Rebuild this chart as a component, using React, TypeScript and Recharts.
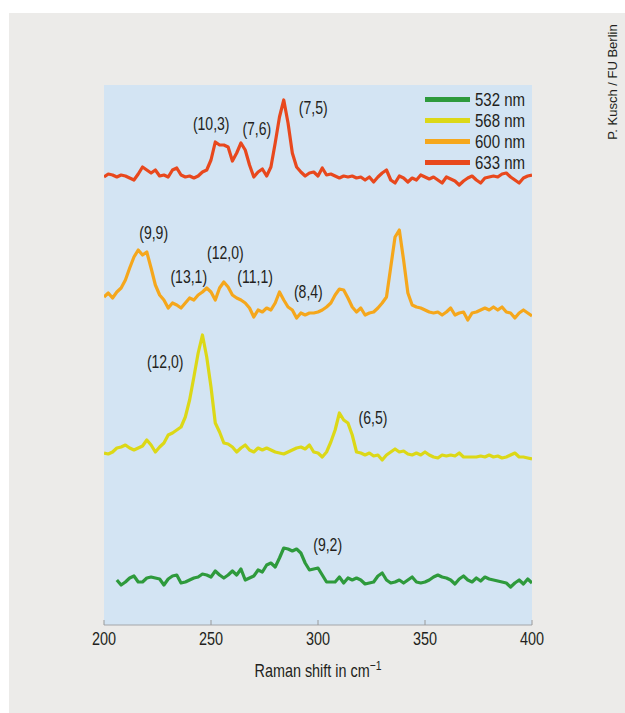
import React from 'react';
import {
  ComposedChart,
  Line,
  XAxis,
  YAxis,
  CartesianGrid,
  ReferenceDot,
  Legend,
  Label,
} from 'recharts';

const FONT = '"Liberation Sans", Arial, sans-serif';
const TEXT = '#231f20';

// Raman shift (cm^-1)
const ramanShift = [
  200, 202, 204, 206, 208, 210, 212, 214, 216, 218,
  220, 222, 224, 226, 228, 230, 232, 234, 236, 238,
  240, 242, 244, 246, 248, 250, 252, 254, 256, 258,
  260, 262, 264, 266, 268, 270, 272, 274, 276, 278,
  280, 282, 284, 286, 288, 290, 292, 294, 296, 298,
  300, 302, 304, 306, 308, 310, 312, 314, 316, 318,
  320, 322, 324, 326, 328, 330, 332, 334, 336, 338,
  340, 342, 344, 346, 348, 350, 352, 354, 356, 358,
  360, 362, 364, 366, 368, 370, 372, 374, 376, 378,
  380, 382, 384, 386, 388, 390, 392, 394, 396, 398,
  400,
];

// Intensities (a.u., spectra offset vertically)
const green532 = [
  null, null, null, 45, 40, 43, 47, 49, 43, 43,
  47, 48, 47, 46, 40, 46, 49, 50, 42, 43,
  45, 47, 48, 51, 50, 48, 54, 50, 47, 50,
  54, 50, 56, 45, 47, 49, 55, 53, 60, 62,
  58, 67, 77, 76, 74, 76, 72, 62, 55, 56,
  57, 50, 43, 43, 43, 48, 42, 47, 45, 47,
  45, 41, 42, 43, 49, 52, 45, 42, 43, 45,
  42, 45, 48, 43, 42, 43, 45, 48, 50, 48,
  47, 45, 41, 46, 49, 45, 43, 47, 44, 48,
  46, 45, 44, 43, 42, 38, 42, 45, 41, 46,
  42,
];

const yellow568 = [
  172, 171, 173, 177, 178, 180, 177, 175, 177, 179,
  185, 180, 173, 178, 182, 190, 192, 195, 198, 208,
  225, 248, 272, 290, 268, 238, 202, 193, 182, 181,
  178, 173, 177, 180, 175, 173, 177, 175, 177, 175,
  173, 172, 171, 173, 175, 177, 178, 176, 180, 173,
  172, 168, 173, 183, 195, 212, 205, 202, 190, 173,
  172, 170, 172, 169, 170, 165, 170, 173, 176, 173,
  174, 171, 170, 172, 170, 173, 170, 168, 167, 170,
  169, 170, 169, 172, 168, 168, 168, 168, 169, 168,
  170, 168, 169, 167, 168, 170, 172, 168, 168, 167,
  166,
];

const orange600 = [
  328, 332, 327, 333, 337, 345, 357, 368, 375, 370,
  373, 357, 340, 330, 325, 317, 322, 320, 317, 322,
  327, 325, 330, 333, 337, 333, 325, 337, 343, 338,
  330, 327, 325, 322, 317, 308, 315, 313, 317, 315,
  322, 333, 325, 318, 315, 307, 312, 310, 312, 312,
  313, 315, 318, 322, 330, 336, 335, 327, 318, 313,
  317, 310, 312, 313, 317, 322, 328, 358, 388, 395,
  365, 332, 320, 318, 317, 315, 313, 312, 313, 310,
  313, 317, 310, 312, 313, 305, 312, 313, 315, 317,
  315, 318, 315, 318, 313, 312, 307, 312, 315, 312,
  309,
];

const red633 = [
  448, 451, 450, 448, 450, 449, 447, 445, 451, 458,
  455, 452, 455, 449, 450, 448, 455, 457, 450, 448,
  449, 447, 449, 453, 455, 465, 483, 480, 480, 478,
  464, 472, 482, 475, 460, 448, 453, 456, 449, 458,
  482, 508, 525, 502, 472, 458, 453, 449, 452, 453,
  449, 457, 450, 451, 449, 447, 449, 448, 449, 447,
  448, 445, 448, 443, 448, 452, 455, 445, 442, 449,
  447, 443, 447, 445, 450, 448, 446, 448, 445, 442,
  448, 446, 444, 440, 444, 447, 449, 445, 442, 447,
  448, 449, 448, 451, 452, 448, 445, 442, 447, 449,
  450,
];

const xTicks = [200, 250, 300, 350, 400];
const yTicks = [108, 216, 324, 432];

// Peak assignments (chirality indices)
const peakText = ['(10,3)', '(7,6)', '(7,5)', '(9,9)', '(12,0)', '(13,1)', '(11,1)', '(8,4)', '(12,0)', '(6,5)', '(9,2)'];
const peakX = [250.1, 271.4, 297.8, 223.2, 256.7, 239.6, 270.6, 295.5, 228.6, 325.7, 304.5];
const peakY = [502, 497, 518, 393, 373, 349, 349, 334, 264, 208, 81];

const data = ramanShift.map((x, i) => ({
  x,
  g: green532[i],
  yl: yellow568[i],
  o: orange600[i],
  r: red633[i],
}));

const XTick = (props: any) => {
  const { x, y, payload } = props;
  return (
    <g transform={`translate(${x},${y - 0.5}) scale(0.76,1)`}>
      <text x={0} y={0} dy="0.71em" textAnchor="middle" fill={TEXT} fontFamily={FONT} fontSize={19}>
        {payload.value}
      </text>
    </g>
  );
};

const PeakLabel = (props: any) => {
  const vb = props.viewBox || { x: 0, y: 0, width: 0, height: 0 };
  const cx = vb.x + (vb.width || 0) / 2;
  const cy = vb.y + (vb.height || 0) / 2;
  return (
    <g transform={`translate(${cx},${cy}) scale(0.78,1)`}>
      <text x={0} y={0} textAnchor="middle" dominantBaseline="central" fill={TEXT} fontFamily={FONT} fontSize={18}>
        {props.text}
      </text>
    </g>
  );
};

const LegendBox = (props: any) => (
  <div style={{ fontFamily: FONT, fontSize: 19, color: TEXT }}>
    {(props.payload || []).map((p: any) => (
      <div key={p.value} style={{ display: 'flex', alignItems: 'center', height: 21 }}>
        <span
          style={{
            display: 'inline-block',
            width: 45,
            height: 5,
            background: p.color,
            marginRight: 5,
          }}
        />
        <span
          style={{
            display: 'inline-block',
            whiteSpace: 'nowrap',
            transform: 'scaleX(0.79)',
            transformOrigin: 'left center',
          }}
        >
          {p.value}
        </span>
      </div>
    ))}
  </div>
);

const XTitle = (props: any) => {
  const vb = props.viewBox || { x: 0, y: 0, width: 0, height: 0 };
  const cx = vb.x + vb.width / 2;
  const cy = vb.y + 52;
  return (
    <g transform={`translate(${cx},${cy}) scale(0.8,1)`}>
      <text x={0} y={0} textAnchor="middle" fill={TEXT} fontFamily={FONT} fontSize={18}>
        Raman shift in cm
        <tspan dy={-7} fontSize={13}>−1</tspan>
      </text>
    </g>
  );
};

const YTitle = (props: any) => {
  const vb = props.viewBox || { x: 0, y: 0, width: 0, height: 0 };
  const cx = vb.x - 29;
  const cy = vb.y + vb.height / 2;
  return (
    <g transform={`translate(${cx},${cy}) rotate(-90) scale(0.82,1)`}>
      <text x={0} y={0} textAnchor="middle" dominantBaseline="central" fill={TEXT} fontFamily={FONT} fontSize={18}>
        Intensity in a. u.
      </text>
    </g>
  );
};

export default function App() {
  return (
    <>
      <style>{`html,body{margin:0;padding:0;overflow:hidden;background:#fff;}`}</style>
      <div
        style={{
          position: 'relative',
          marginLeft: 9,
          marginTop: 13,
          width: 616,
          height: 700,
          background: '#ecebe9',
        }}
      >
        <ComposedChart
          width={616}
          height={700}
          data={data}
          margin={{ top: 72, right: 93, bottom: 58, left: 95 }}
        >
          <CartesianGrid fill="#d3e4f3" stroke="none" horizontal={false} vertical={false} />
          <XAxis
            dataKey="x"
            type="number"
            domain={[200, 400]}
            ticks={xTicks}
            allowDataOverflow
            height={30}
            tickSize={-5}
            tickMargin={12}
            axisLine={{ stroke: '#a3a6a9' }}
            tickLine={{ stroke: '#9a9a9a' }}
            tick={<XTick />}
          >
            <Label content={<XTitle />} />
          </XAxis>
          <XAxis
            xAxisId="top"
            orientation="top"
            type="number"
            domain={[200, 400]}
            ticks={xTicks}
            height={0}
            tickSize={-5}
            tick={false}
            axisLine={{ stroke: '#c5ccd2' }}
            tickLine={{ stroke: '#9a9a9a' }}
          />
          <YAxis
            type="number"
            domain={[0, 540]}
            ticks={yTicks}
            width={0}
            tickSize={-5}
            tick={false}
            axisLine={{ stroke: '#b3b6b9' }}
            tickLine={{ stroke: '#9a9a9a' }}
          >
            <Label content={<YTitle />} />
          </YAxis>
          <YAxis
            yAxisId="right"
            orientation="right"
            type="number"
            domain={[0, 540]}
            ticks={yTicks}
            width={0}
            tickSize={-5}
            tick={false}
            axisLine={{ stroke: '#b3b6b9' }}
            tickLine={{ stroke: '#9a9a9a' }}
          />
          <Legend
            layout="vertical"
            align="center"
            verticalAlign="middle"
            content={<LegendBox />}
            wrapperStyle={{ left: 416, top: 76, width: 120, height: 90 }}
          />
          <Line
            name="532 nm"
            dataKey="g"
            stroke="#2e9a3c"
            strokeWidth={3.2}
            dot={false}
            activeDot={false}
            isAnimationActive={false}
            strokeLinejoin="round"
          />
          <Line
            name="568 nm"
            dataKey="yl"
            stroke="#dcd817"
            strokeWidth={3.2}
            dot={false}
            activeDot={false}
            isAnimationActive={false}
            strokeLinejoin="round"
          />
          <Line
            name="600 nm"
            dataKey="o"
            stroke="#f5a71c"
            strokeWidth={3.2}
            dot={false}
            activeDot={false}
            isAnimationActive={false}
            strokeLinejoin="round"
          />
          <Line
            name="633 nm"
            dataKey="r"
            stroke="#e8481d"
            strokeWidth={3.2}
            dot={false}
            activeDot={false}
            isAnimationActive={false}
            strokeLinejoin="round"
          />
          {peakText.map((t, i) => (
            <ReferenceDot
              key={i}
              x={peakX[i]}
              y={peakY[i]}
              r={0}
              fill="none"
              stroke="none"
              label={<PeakLabel text={t} />}
            />
          ))}
        </ComposedChart>
        <div
          style={{
            position: 'absolute',
            left: 603,
            top: 69,
            transform: 'translate(-50%, -50%) rotate(-90deg)',
            whiteSpace: 'nowrap',
            fontFamily: FONT,
            fontSize: 13,
            color: TEXT,
          }}
        >
          P. Kusch / FU Berlin
        </div>
      </div>
    </>
  );
}
